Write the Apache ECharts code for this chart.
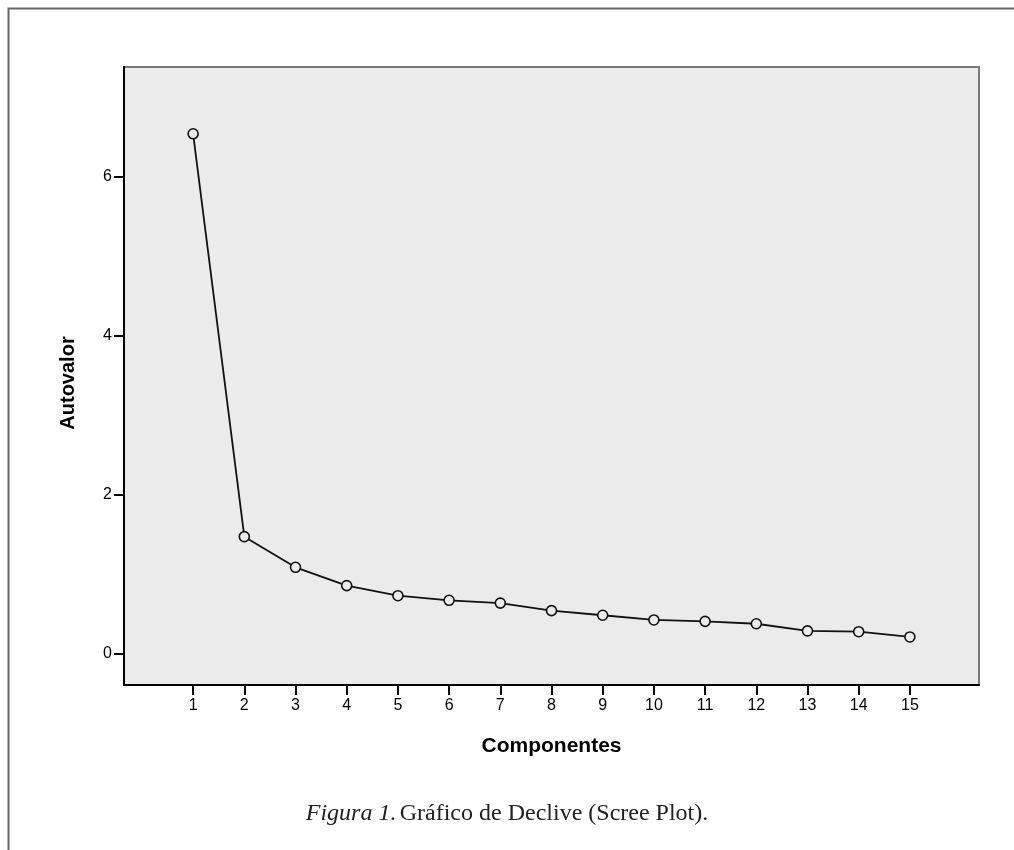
<!DOCTYPE html>
<html>
<head>
<meta charset="utf-8">
<script src="https://cdn.jsdelivr.net/npm/echarts@6/dist/echarts.min.js"></script>
<style>
html,body{margin:0;padding:0;background:#fff;}
#chart{width:1014px;height:850px;}
</style>
</head>
<body>
<div id="chart"></div>
<script>
const components = [1,2,3,4,5,6,7,8,9,10,11,12,13,14,15];
const eigenvalues = [6.54,1.475,1.09,0.86,0.733,0.675,0.64,0.545,0.487,0.428,0.41,0.38,0.29,0.28,0.214];
const xTicks = [1,2,3,4,5,6,7,8,9,10,11,12,13,14,15];
const yTicks = [0,2,4,6];
const xTitle = 'Componentes';
const yTitle = 'Autovalor';
const caption = 'Gráfico de Declive (Scree Plot).';
const captionLead = 'Figura 1.';

const chart = echarts.init(document.getElementById('chart'), null, {renderer:'canvas'});
const points = components.map((c,i)=>[c, eigenvalues[i]]);
const sans = '"Liberation Sans", Arial, sans-serif';
const serif = '"Liberation Serif", "DejaVu Serif", serif';

chart.setOption({
  animation:false,
  backgroundColor:'#ffffff',
  grid:{left:124, top:67, right:35, bottom:165, show:true, backgroundColor:'#ebebeb', borderColor:'#7a7a7a', borderWidth:2},
  xAxis:{
    type:'value', min:-0.35, max:16.35,
    name:xTitle, nameLocation:'middle', nameGap:51,
    nameTextStyle:{fontFamily:sans, fontWeight:'bold', fontSize:21, color:'#000'},
    axisLine:{show:true, onZero:false, lineStyle:{color:'#000', width:2}},
    axisTick:{show:true, length:10, lineStyle:{color:'#000', width:2}, customValues:xTicks},
    axisLabel:{customValues:xTicks, margin:13, fontFamily:sans, fontSize:16, color:'#000'},
    splitLine:{show:false}
  },
  yAxis:{
    type:'value', min:-0.39, max:7.38,
    name:yTitle, nameLocation:'middle', nameGap:46, nameRotate:90,
    nameTextStyle:{fontFamily:sans, fontWeight:'bold', fontSize:20, color:'#000', padding:[0,0,0,-14]},
    axisLine:{show:true, onZero:false, lineStyle:{color:'#000', width:2}},
    axisTick:{show:true, length:10, lineStyle:{color:'#000', width:2}, customValues:yTicks},
    axisLabel:{customValues:yTicks, margin:12, fontFamily:sans, fontSize:16, color:'#000'},
    splitLine:{show:false}
  },
  series:[{
    type:'line', data:points,
    symbol:'circle', symbolSize:10,
    lineStyle:{color:'#111', width:1.8},
    itemStyle:{color:'#ebebeb', borderColor:'#111', borderWidth:1.6},
    z:3
  }],
  graphic:[
    {type:'rect', left:6, top:6, shape:{x:0,y:0,width:1100,height:900}, style:{fill:'none', stroke:'#666', lineWidth:2}, silent:true},
    {type:'text', left:'center', top:802, style:{
      rich:{i:{fontFamily:serif, fontStyle:'italic', fontSize:24, fill:'#222'}, n:{fontFamily:serif, fontSize:24, fill:'#222'}},
      text:'{i|'+captionLead+'} {n|'+caption+'}'
    }}
  ]
});
</script>
</body>
</html>
